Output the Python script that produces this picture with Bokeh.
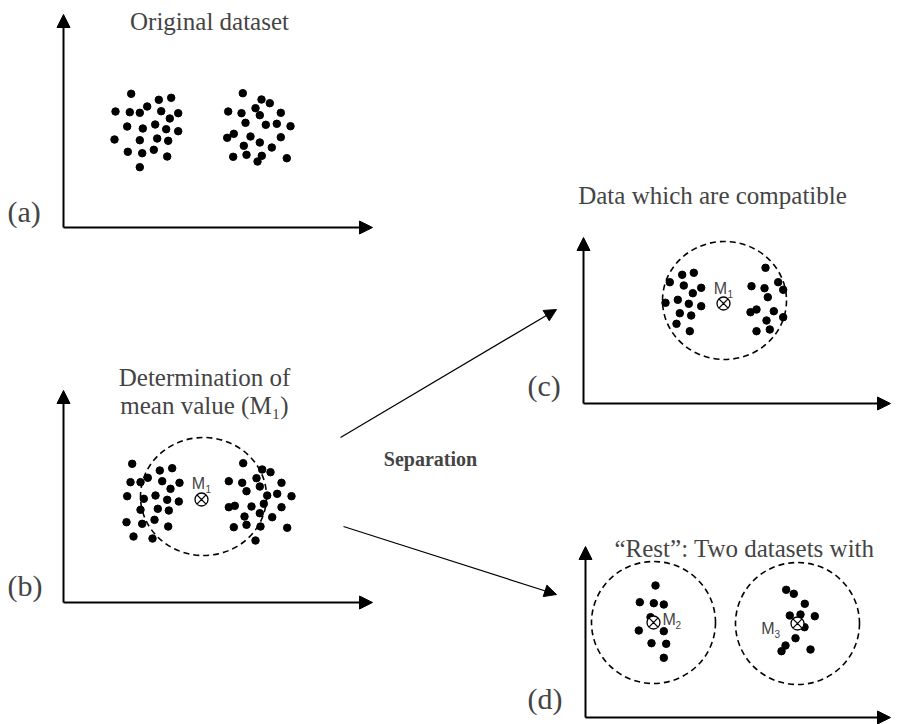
from bokeh.plotting import figure
from bokeh.models import Range1d, Arrow, NormalHead, Label
from bokeh.embed import file_html
from bokeh.resources import INLINE

# ---- data: dot positions (pixel coordinates) ----
a_x = [130.7, 158.3, 170.7, 115, 129.3, 139.3, 146.7, 160.7, 177.7, 169.3, 126.7, 142.3,
       154.7, 165.7, 177.7, 114, 139.3, 156.7, 167.7, 127.3, 141.7, 153.3, 166.7, 139.3,
       242.3, 261, 269.3, 227.7, 241, 255, 259.3, 280.3, 245, 265.3, 276.3, 290, 233.3,
       226.7, 250, 259.3, 280.3, 243.3, 271.3, 232.7, 246, 261.3, 257, 286.3]
a_y = [93.3, 99.3, 97.3, 111, 111.7, 112.3, 106, 110.7, 112.7, 118, 126, 128, 124, 128.7,
       130.7, 139, 139.7, 138, 140.3, 151.3, 152.7, 149.3, 156, 166.7,
       92.7, 99, 102.7, 111, 112.7, 107.7, 114.7, 112.3, 122.3, 124.3, 123.3, 125.7, 133.3,
       137.3, 136, 142, 136.7, 145.3, 147, 156.3, 154.3, 155.3, 161, 157.7]

b_x = [131.7, 159.3, 171.7, 130, 140, 147.3, 161.7, 170, 179, 126.7, 143.3, 155, 166.7,
       178.3, 140, 157.3, 168.3, 126, 141.7, 154, 167.7, 133, 152,
       242.7, 261.7, 270, 228.3, 241.7, 256, 281, 246, 259.3, 266.7, 276.7, 291, 228.3,
       234.3, 251, 263.3, 281, 244, 259.3, 271.7, 233.3, 246, 260, 286.7, 255]
b_y = [463.3, 470, 467.7, 481.7, 481.7, 477.3, 480.7, 488.3, 482.3, 495.7, 498.3, 495,
       499.3, 501, 509.3, 508.3, 510, 521.7, 523.3, 519.3, 526, 536, 538,
       462.7, 469, 471.7, 480.7, 482.3, 477.7, 482.3, 490.7, 486, 495, 493.3, 495.7, 506.7,
       505.3, 506, 503.3, 506.7, 516, 512.7, 516.7, 526.7, 524.3, 526, 527.3, 540]

c_x = [681.7, 693.3, 669.3, 683.3, 692.3, 700.7, 665, 677.3, 688.3, 700.7, 679.3, 690.7,
       676, 689.3,
       765, 751, 764, 777.7, 782.7, 767.3, 750, 756, 773.3, 782.7, 766, 769.3, 756]
c_y = [274.3, 272.3, 281.7, 285, 292.7, 287.3, 302.3, 299.3, 303.3, 305.7, 312.7, 315,
       323.3, 330.7,
       267.3, 285.7, 287.7, 281.7, 289.3, 296.7, 311.7, 309, 310.7, 316.7, 320, 329, 330.7]

d_x = [655, 639.3, 653.3, 663.3, 650, 638.3, 663.3, 651, 665.7, 663.3,
       785.7, 793.3, 804.3, 789.3, 800, 814.3, 804, 795, 785, 781, 810]
d_y = [585, 601.7, 602.7, 604, 616.7, 630, 630.7, 642.7, 643.3, 657.3,
       589.3, 593.3, 603.3, 615, 614, 615.7, 626.7, 637.7, 645, 650.7, 649]

# mean values (⊗) and the dashed circles that enclose the compatible data
mean_x = [201, 723, 653, 797]
mean_y = [499, 303, 622, 623]
mean_names = ["M", "M", "M", "M"]
mean_subs = ["1", "1", "2", "3"]
circ_x = [203, 724, 653, 797]
circ_y = [496, 300, 622, 623]
circ_w = [126, 124, 124, 124]
circ_h = [118, 118, 122, 122]

p = figure(width=909, height=724, x_range=Range1d(0, 909), y_range=Range1d(724, 0),
           output_backend="svg", toolbar_location=None, min_border=0)
p.axis.visible = False
p.grid.visible = False
p.outline_line_color = None
p.background_fill_color = "white"

# axes of the four panels: (origin x, origin y, y tip, x tip)
panels = [(63, 227, 14, 372), (63, 602, 390, 372), (583, 403, 237, 890), (585, 717, 546, 890)]
for ox, oy, ty, tx in panels:
    p.add_layout(Arrow(end=NormalHead(size=13, fill_color="black", line_color="black"),
                       x_start=ox, y_start=oy, x_end=ox, y_end=ty, line_width=2))
    p.add_layout(Arrow(end=NormalHead(size=13, fill_color="black", line_color="black"),
                       x_start=ox, y_start=oy, x_end=tx, y_end=oy, line_width=2))

# separation arrows
p.add_layout(Arrow(end=NormalHead(size=12, fill_color="black", line_color="black"),
                   x_start=340, y_start=437, x_end=556, y_end=309, line_width=1.2))
p.add_layout(Arrow(end=NormalHead(size=12, fill_color="black", line_color="black"),
                   x_start=343, y_start=526, x_end=556, y_end=594, line_width=1.2))

for xs, ys in [(a_x, a_y), (b_x, b_y), (c_x, c_y), (d_x, d_y)]:
    p.scatter(xs, ys, size=7.5, color="black")

p.ellipse(x=circ_x, y=circ_y, width=circ_w, height=circ_h, fill_color=None,
          line_color="black", line_dash="6 4", line_width=1.6)
p.scatter(mean_x, mean_y, marker="circle_x", size=13, fill_color="white",
          line_color="black", line_width=1.3)

# mean labels
lbl_pos = [(198, 483, "center"), (720, 288, "center"), (662, 619, "left"), (779, 628, "right")]
for (lx, ly, al), nm, sb in zip(lbl_pos, mean_names, mean_subs):
    if al == "right":
        p.add_layout(Label(x=lx - 5, y=ly, text=nm, text_font="Liberation Sans", text_font_size="16px",
                           text_align="right", text_baseline="middle"))
        p.add_layout(Label(x=lx - 5, y=ly + 5, text=sb, text_font="Liberation Sans", text_font_size="10px",
                           text_align="left", text_baseline="middle"))
    elif al == "left":
        p.add_layout(Label(x=lx, y=ly, text=nm, text_font="Liberation Sans", text_font_size="16px",
                           text_align="left", text_baseline="middle"))
        p.add_layout(Label(x=lx + 13, y=ly + 5, text=sb, text_font="Liberation Sans", text_font_size="10px",
                           text_align="left", text_baseline="middle"))
    else:
        p.add_layout(Label(x=lx, y=ly, text=nm, text_font="Liberation Sans", text_font_size="16px",
                           text_align="center", text_baseline="middle"))
        p.add_layout(Label(x=lx + 7, y=ly + 5, text=sb, text_font="Liberation Sans", text_font_size="10px",
                           text_align="left", text_baseline="middle"))

serif = "Liberation Serif"
texts = [
    (209, 21, "Original dataset", "center", "normal", "25px"),
    (204, 377, "Determination of", "center", "normal", "25px"),
    (204, 405, "mean value (M\u2081)", "center", "normal", "25px"),
    (712, 195, "Data which are compatible", "center", "normal", "25px"),
    (744, 548, "\u201cRest\u201d: Two datasets with", "center", "normal", "25px"),
    (430, 458, "Separation", "center", "bold", "20px"),
    (7, 211, "(a)", "left", "normal", "30px"),
    (7, 585, "(b)", "left", "normal", "30px"),
    (527, 385, "(c)", "left", "normal", "30px"),
    (527, 698, "(d)", "left", "normal", "30px"),
]
for tx, ty, t, al, st, fs in texts:
    p.add_layout(Label(x=tx, y=ty, text=t, text_font=serif, text_font_size=fs,
                       text_font_style=st, text_align=al, text_baseline="middle"))

open("out.html", "w").write(file_html(p, INLINE))
